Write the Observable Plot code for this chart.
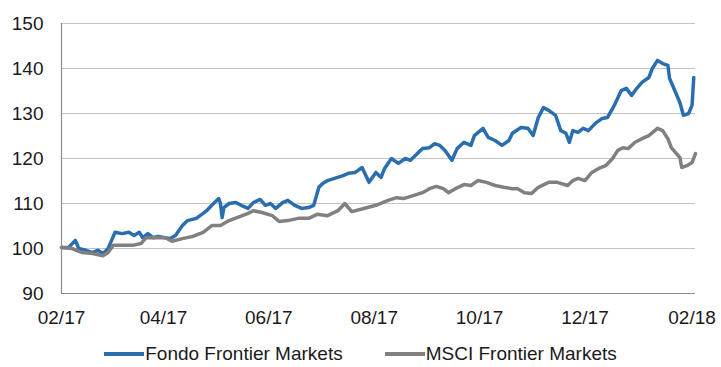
<!DOCTYPE html>
<html>
<head>
<meta charset="utf-8">
<script src="https://cdn.jsdelivr.net/npm/d3@7"></script>
<script src="https://cdn.jsdelivr.net/npm/@observablehq/plot@0.6"></script>
<style>
  html, body { margin: 0; padding: 0; background: #fff; overflow: hidden; }
  #wrap { position: relative; width: 721px; height: 367px; font-family: "Liberation Sans", Arial, sans-serif; }
  #legend { position: absolute; left: 0; top: 343px; width: 721px; height: 22px; line-height: 22px;
            display: flex; justify-content: center; align-items: center; font-size: 19px; color: #1a1a1a; }
  .item { display: flex; align-items: center; }
  .sw { width: 40px; height: 4px; margin-right: 1px; }
</style>
</head>
<body>
<div id="wrap"><div id="chart"></div><div id="legend"></div></div>
<script>
const seriesNames = ["Fondo Frontier Markets", "MSCI Frontier Markets"];
const seriesColors = ["#2a6ead", "#808080"];

const fondoDates = ["2017-02-01","2017-02-05","2017-02-09","2017-02-11","2017-02-15","2017-02-19","2017-02-22","2017-02-25","2017-02-28","2017-03-02","2017-03-04","2017-03-08","2017-03-12","2017-03-15","2017-03-18","2017-03-20","2017-03-23","2017-03-26","2017-03-29","2017-04-02","2017-04-05","2017-04-08","2017-04-12","2017-04-15","2017-04-20","2017-04-24","2017-04-26","2017-04-29","2017-05-03","2017-05-04","2017-05-05","2017-05-06","2017-05-09","2017-05-13","2017-05-16","2017-05-20","2017-05-23","2017-05-27","2017-05-30","2017-06-02","2017-06-05","2017-06-09","2017-06-12","2017-06-16","2017-06-20","2017-06-24","2017-06-27","2017-06-30","2017-07-02","2017-07-05","2017-07-09","2017-07-14","2017-07-17","2017-07-21","2017-07-25","2017-07-29","2017-08-02","2017-08-05","2017-08-07","2017-08-11","2017-08-15","2017-08-19","2017-08-22","2017-08-26","2017-08-29","2017-09-02","2017-09-05","2017-09-08","2017-09-11","2017-09-15","2017-09-18","2017-09-22","2017-09-26","2017-09-28","2017-10-03","2017-10-06","2017-10-10","2017-10-14","2017-10-18","2017-10-20","2017-10-25","2017-10-29","2017-11-01","2017-11-04","2017-11-07","2017-11-10","2017-11-14","2017-11-17","2017-11-20","2017-11-22","2017-11-24","2017-11-27","2017-11-30","2017-12-03","2017-12-07","2017-12-11","2017-12-14","2017-12-18","2017-12-22","2017-12-25","2017-12-28","2017-12-31","2018-01-03","2018-01-07","2018-01-09","2018-01-12","2018-01-15","2018-01-18","2018-01-19","2018-01-22","2018-01-25","2018-01-27","2018-01-30","2018-02-01","2018-02-02"];
const fondoValues = [100.2,100.2,101.8,100,99.6,99.1,99.6,98.9,100,101.8,103.6,103.3,103.6,102.9,103.6,102.4,103.3,102.4,102.7,102.4,102.2,102.9,105.1,106.2,106.7,107.8,108.4,109.6,111.1,110,106.9,109.1,110,110.2,109.6,108.9,110.2,110.9,109.6,110,108.9,110.2,110.7,109.6,108.9,109.1,109.6,113.6,114.4,115.1,115.6,116.2,116.7,116.9,118,114.7,116.9,115.8,117.8,120,118.9,120,119.6,121.1,122.2,122.4,123.3,122.9,121.8,119.6,122.2,123.6,122.9,125.1,126.7,124.7,124,122.9,124,125.6,126.9,126.7,125.1,129.1,131.3,130.7,129.6,126.2,125.6,123.6,126.2,125.8,126.7,126.2,127.8,128.9,129.1,131.8,135.1,135.6,134,135.6,136.9,138,140,141.8,141.1,140.7,137.8,135.1,132.4,129.6,130,131.8,138];

const msciDates = ["2017-02-01","2017-02-07","2017-02-13","2017-02-19","2017-02-25","2017-02-28","2017-03-03","2017-03-08","2017-03-14","2017-03-19","2017-03-22","2017-03-27","2017-04-02","2017-04-06","2017-04-12","2017-04-18","2017-04-24","2017-04-29","2017-05-04","2017-05-09","2017-05-14","2017-05-20","2017-05-23","2017-05-28","2017-06-03","2017-06-07","2017-06-12","2017-06-18","2017-06-24","2017-06-29","2017-07-05","2017-07-11","2017-07-15","2017-07-19","2017-07-26","2017-08-02","2017-08-09","2017-08-14","2017-08-18","2017-08-24","2017-08-29","2017-09-02","2017-09-06","2017-09-10","2017-09-13","2017-09-17","2017-09-22","2017-09-26","2017-09-30","2017-10-05","2017-10-10","2017-10-15","2017-10-20","2017-10-23","2017-10-27","2017-10-31","2017-11-04","2017-11-10","2017-11-15","2017-11-21","2017-11-24","2017-11-27","2017-12-01","2017-12-05","2017-12-09","2017-12-13","2017-12-17","2017-12-20","2017-12-23","2017-12-26","2017-12-30","2018-01-03","2018-01-07","2018-01-12","2018-01-15","2018-01-18","2018-01-20","2018-01-23","2018-01-25","2018-01-26","2018-01-29","2018-02-01","2018-02-03"];
const msciValues = [100.2,100,99.1,98.9,98.4,99.1,100.7,100.7,100.7,101.1,102.4,102.4,102.4,101.6,102.2,102.7,103.6,105.1,105.1,106.2,106.9,107.8,108.4,108,107.3,106,106.2,106.7,106.7,107.6,107.3,108.4,110,108.2,108.9,109.6,110.7,111.3,111.1,111.8,112.4,113.3,113.8,113.3,112.4,113.3,114.2,114,115.1,114.7,114,113.6,113.3,113.3,112.4,112.2,113.6,114.7,114.7,114,115.1,115.6,115.1,116.9,117.8,118.4,120,121.8,122.4,122.2,123.6,124.4,125.1,126.7,126.2,124.4,122.4,121.1,120.2,118,118.4,119.1,121.1];

const yTicks = [90, 100, 110, 120, 130, 140, 150];
const gridValues = [100, 110, 120, 130, 140, 150];
const xTickDates = ["2017-02-01","2017-04-01","2017-06-01","2017-08-01","2017-10-01","2017-12-01","2018-02-01"];
const xDomain = ["2017-02-01", "2018-02-03"];

const parse = s => new Date(s + "T00:00:00Z");
const fondo = fondoDates.map((d, i) => ({date: parse(d), value: fondoValues[i]}));
const msci = msciDates.map((d, i) => ({date: parse(d), value: msciValues[i]}));
const fmt = d3.utcFormat("%m/%y");

const chart = Plot.plot({
  width: 721,
  height: 340,
  marginLeft: 61,
  marginRight: 26,
  marginTop: 23,
  marginBottom: 47,
  style: {fontFamily: "'Liberation Sans', Arial, sans-serif", fontSize: "19px", color: "#1a1a1a", background: "#fff"},
  x: {type: "utc", domain: xDomain.map(parse), ticks: xTickDates.map(parse), tickFormat: fmt, tickSize: 0, tickPadding: 17, label: null},
  y: {domain: [90, 150], ticks: yTicks, tickSize: 0, tickPadding: 18, label: null},
  marks: [
    Plot.ruleY(gridValues, {stroke: "#c4c4c4", strokeWidth: 1}),
    Plot.ruleY([yTicks[0]], {stroke: "#8c8c8c", strokeWidth: 1.2}),
    Plot.ruleX([parse(xDomain[0])], {stroke: "#8c8c8c", strokeWidth: 1.2}),
    Plot.line(fondo, {x: "date", y: "value", stroke: seriesColors[0], strokeWidth: 3.5, strokeLinejoin: "round"}),
    Plot.line(msci, {x: "date", y: "value", stroke: seriesColors[1], strokeWidth: 3.5, strokeLinejoin: "round"})
  ]
});
document.getElementById("chart").appendChild(chart);

const legend = document.getElementById("legend");
seriesNames.forEach((name, i) => {
  const item = document.createElement("div");
  item.className = "item";
  if (i > 0) item.style.marginLeft = "42px";
  const sw = document.createElement("span");
  sw.className = "sw";
  sw.style.background = seriesColors[i];
  const t = document.createElement("span");
  t.textContent = name;
  item.appendChild(sw);
  item.appendChild(t);
  legend.appendChild(item);
});
</script>
</body>
</html>
